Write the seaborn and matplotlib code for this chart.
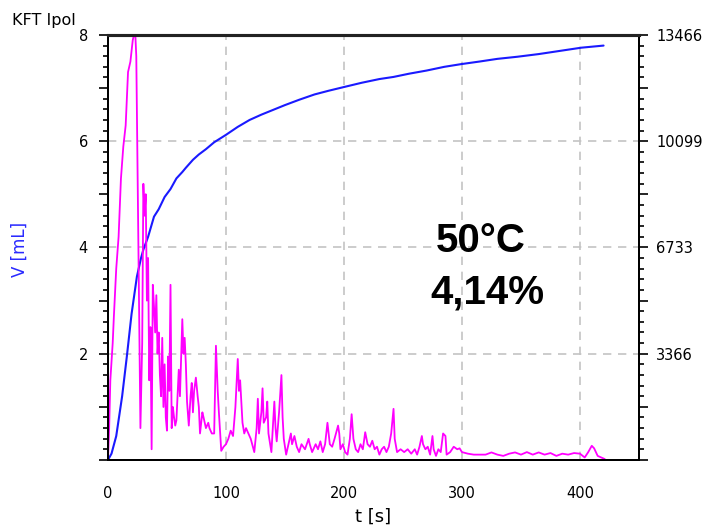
import numpy as np
import pandas as pd
import matplotlib
matplotlib.use("Agg")
import matplotlib.pyplot as plt
import seaborn as sns
from matplotlib.ticker import MultipleLocator, FuncFormatter

# titration volume V [mL] over time t [s]
t_v = [0, 3, 7, 12, 16, 20, 24.5, 28, 30, 34, 39, 43, 48, 53, 58, 63, 66, 72, 77, 83,
       90, 100, 110, 120, 130, 140, 150, 162, 175, 187, 200, 215, 230, 242, 255,
       270, 285, 299, 315, 330, 347, 365, 383, 401, 420]
v_ml = [0, 0.12, 0.45, 1.2, 1.95, 2.75, 3.45, 3.8, 3.96, 4.2, 4.58, 4.72, 4.95, 5.1,
        5.3, 5.42, 5.5, 5.65, 5.75, 5.85, 5.98, 6.12, 6.27, 6.4, 6.5, 6.59, 6.68,
        6.78, 6.88, 6.95, 7.02, 7.1, 7.17, 7.21, 7.27, 7.33, 7.4, 7.45, 7.5, 7.55,
        7.59, 7.64, 7.7, 7.76, 7.8]

# polarisation current (KFT Ipol), right axis
t_i = [0, 1, 2, 4, 5, 7, 9, 11, 13, 15, 17, 19, 21, 23, 24, 27.5, 29, 30, 31, 32, 33,
       34, 35, 36, 37, 38, 39, 40, 41, 42, 43, 44, 45, 46, 47, 48, 49, 50, 51, 52,
       53, 54, 55, 56, 57, 58, 60, 61, 63, 64, 65, 66, 67, 68.5, 70, 71, 72, 73,
       74.5, 76, 77, 78, 80, 81, 83, 85, 86, 88, 90, 91.5, 93, 94, 96, 98, 100,
       102, 104, 106, 108, 110, 111, 112, 114, 115.5, 117, 119, 121, 124, 126,
       127, 128, 130, 131, 132, 134, 135, 136, 138.5, 140, 141, 142, 143, 145,
       147, 148, 149, 151, 153, 155, 156, 158, 160, 162, 164, 167, 170, 171, 173,
       176, 178, 180, 182, 184, 186, 188, 190, 192, 195, 196, 197, 199, 201, 203,
       205, 206.5, 208, 210, 212, 214, 216, 218, 220, 222, 224, 226, 228, 230,
       232, 234, 236, 238, 240, 242, 243, 245, 248, 251, 254, 257, 260, 262, 264,
       266, 267, 269, 271, 273, 275, 276, 278, 280, 282, 284, 286, 287, 290, 293,
       296, 298, 300, 305, 310, 315, 320, 325, 330, 335, 340, 345, 350, 355, 360,
       365, 370, 375, 380, 385, 390, 395, 400, 404, 407, 410, 412, 415, 418, 421]
ipol = [0, 1010, 2525, 3700, 4545, 6060, 7070, 8920, 9930, 10600, 12290, 12620,
        13300, 13630, 12790, 1010, 3700, 8750, 7740, 8420, 5050, 6400, 2525, 4210,
        340, 5550, 4880, 4040, 5220, 3370, 4040, 2690, 2020, 3870, 1680, 3030, 1350,
        930, 3280, 2190, 5550, 1010, 1680, 1350, 1090, 1260, 2860, 2020, 4460, 3370,
        3870, 3030, 1850, 1090, 2020, 2440, 1510, 2190, 2610, 2020, 1680, 840, 1510,
        1350, 1010, 1180, 1010, 840, 840, 3620, 2190, 1510, 290, 420, 500, 670, 930,
        760, 1680, 3200, 2190, 2525, 1180, 840, 1010, 840, 670, 250, 1010, 1940, 840,
        1510, 2270, 1180, 1350, 1850, 840, 250, 1180, 1850, 1010, 590, 1510, 2690,
        1350, 670, 170, 500, 840, 500, 760, 420, 250, 500, 340, 670, 500, 250, 500,
        340, 590, 250, 500, 1180, 500, 420, 670, 1090, 840, 340, 500, 250, 170, 670,
        1450, 670, 340, 250, 500, 340, 880, 500, 420, 610, 340, 420, 170, 340, 420,
        250, 420, 840, 1620, 670, 250, 340, 250, 340, 200, 340, 170, 420, 760, 500,
        340, 420, 170, 760, 340, 130, 340, 250, 840, 760, 170, 250, 420, 340, 370,
        250, 200, 170, 170, 170, 240, 170, 130, 200, 240, 170, 250, 170, 240, 170,
        220, 130, 200, 170, 220, 200, 80, 250, 450, 370, 130, 80, 30]

x_ticks = [0, 100, 200, 300, 400]
v_ticks = [2, 4, 6, 8]
ipol_max = 13466
ipol_labels = ["3366", "6733", "10099", "13466"]

vol_df = pd.DataFrame({"t": t_v, "V": v_ml})
ipol_df = pd.DataFrame({"t": t_i, "Ipol": ipol})

sns.set_style("white")
plt.rcParams["font.family"] = ["DejaVu Sans"]
plt.rcParams["text.color"] = "black"
plt.rcParams["axes.labelcolor"] = "black"
plt.rcParams["xtick.color"] = "black"
plt.rcParams["ytick.color"] = "black"

fig = plt.figure(figsize=(7.08, 5.28), dpi=100)
ax = fig.add_axes([0.1525, 0.1288, 0.75, 0.805])
ax2 = ax.twinx()

# dashed grid at the labelled ticks only
grid_kw = dict(color="#c4c4c4", linestyle=(0, (5, 4)), linewidth=1.2, zorder=0)
for xv in x_ticks[1:]:
    ax.axvline(xv, **grid_kw)
for yv in v_ticks:
    ax.axhline(yv, **grid_kw)

sns.lineplot(data=vol_df, x="t", y="V", ax=ax, color="#1a1aff", linewidth=1.5,
             estimator=None, sort=False, zorder=3)
sns.lineplot(data=ipol_df, x="t", y="Ipol", ax=ax2, color="#ff00ff", linewidth=1.3,
             estimator=None, sort=False, zorder=2)

ax.set_xlim(0, 450)
ax.set_ylim(0, 8)
ax2.set_ylim(0, ipol_max)

# x: long ticks every 50, labels every 100, small ticks every 10
ax.xaxis.set_major_locator(MultipleLocator(50))
ax.xaxis.set_minor_locator(MultipleLocator(10))
ax.xaxis.set_major_formatter(FuncFormatter(
    lambda v, p: f"{int(v)}" if int(round(v)) in x_ticks else ""))

ax.yaxis.set_major_locator(MultipleLocator(1))
ax.yaxis.set_minor_locator(MultipleLocator(0.2))
ax.yaxis.set_major_formatter(FuncFormatter(
    lambda v, p: f"{int(v)}" if int(round(v)) in v_ticks else ""))

ax2.yaxis.set_major_locator(MultipleLocator(ipol_max / 8))
ax2.yaxis.set_minor_locator(MultipleLocator(ipol_max / 40))
ax2.yaxis.set_major_formatter(FuncFormatter(
    lambda v, p: ipol_labels[int(round(v / (ipol_max / 4))) - 1]
    if round(v / (ipol_max / 8)) % 2 == 0 and round(v) > 0 else ""))

ax.grid(False)
ax2.grid(False)

ax.tick_params(axis="both", which="major", direction="out", length=6.5, width=1.2,
               labelsize=10.5, color="black")
ax.tick_params(axis="both", which="minor", direction="out", length=3.5, width=1.2,
               color="black")
ax.tick_params(axis="x", which="major", pad=12)
ax.tick_params(axis="y", which="major", pad=8)
ax2.tick_params(axis="y", which="major", direction="out", length=6.5, width=1.2,
                labelsize=10.5, pad=6)
ax2.tick_params(axis="y", which="minor", direction="out", length=3.5, width=1.2)

ax.set_xlabel("t [s]", fontsize=13, labelpad=5)
ax.set_ylabel("")
ax2.set_ylabel("")

for a in (ax, ax2):
    for side in ["left", "right", "bottom"]:
        a.spines[side].set_color("black")
        a.spines[side].set_linewidth(1.4)
    a.spines["top"].set_color("#222222")
    a.spines["top"].set_linewidth(2.2)

fig.text(20 / 708, 1 - 249 / 528, "V [mL]", rotation=90, color="#2a2aff",
         fontsize=12, ha="center", va="center")
fig.text(12 / 708, 1 - 20 / 528, "KFT Ipol", fontsize=11.5, ha="left", va="center")

fig.text(481 / 708, 1 - 241 / 528, "50°C", fontsize=29, fontweight="bold",
         family="Liberation Sans", ha="center", va="center")
fig.text(487 / 708, 1 - 292 / 528, "4,14%", fontsize=29, fontweight="bold",
         family="Liberation Sans", ha="center", va="center")

fig.savefig("out.png", dpi=100)
